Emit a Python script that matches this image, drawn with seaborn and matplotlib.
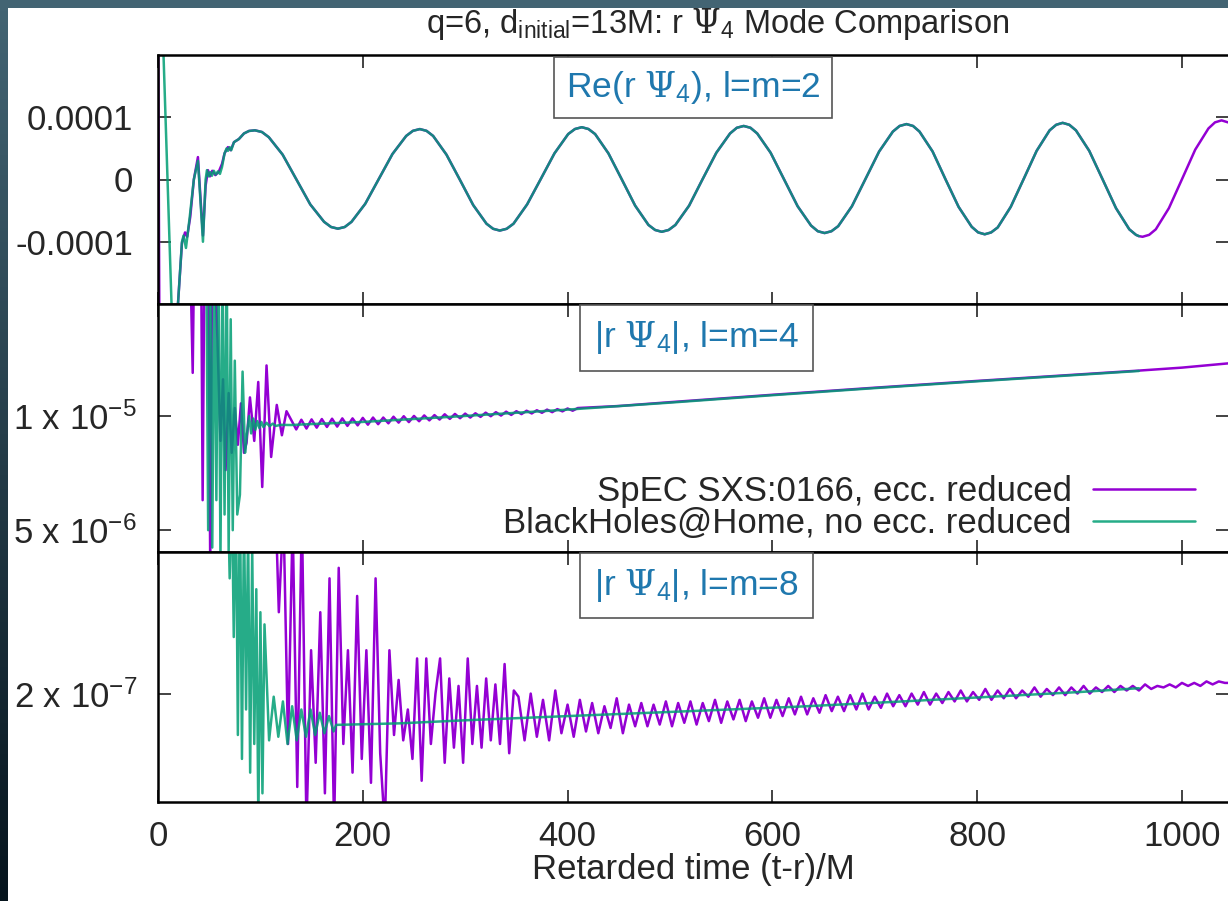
import numpy as np
import matplotlib
matplotlib.use("Agg")
import matplotlib.pyplot as plt
import seaborn as sns
from matplotlib.ticker import NullLocator
from matplotlib.patches import Rectangle

sns.set_theme(style="white")
plt.rcParams['font.family'] = ['Liberation Sans', 'DejaVu Sans']
plt.rcParams['mathtext.fontset'] = 'custom'
plt.rcParams['mathtext.rm'] = 'DejaVu Serif'
plt.rcParams['mathtext.sf'] = 'Liberation Sans'
plt.rcParams['mathtext.it'] = 'Liberation Sans:italic'

PURPLE = '#9400d3'
GREEN = '#009e73'
LABEL_BLUE = '#1f78ae'

# ---------------- Re(r Psi4), l=m=2   (units of 1e-4) ----------------
re22_spec_early_t = [0, 1.5, 12, 19.5, 23.4, 26.4, 28.5, 31.5, 35, 39, 41.5, 43.9, 46.5, 48.8,
                     50.8, 53, 56, 59.2, 62.5, 65, 68.3, 71, 74.2, 79, 84, 88.9]
re22_spec_early_v = [3.0, -3.0, -3.0, -2.0, -1.02, -0.85, -0.92, -0.6, 0.0, 0.36, -0.3, -0.90, -0.1, 0.15,
                     0.05, 0.14, 0.07, 0.12, 0.25, 0.42, 0.52, 0.47, 0.60, 0.65, 0.74, 0.78]
re22_bhah_early_t = [0, 5, 13.6, 16, 19.5, 23.4, 25, 27.3, 31, 35, 39, 41.5, 43.9, 46.5, 47.8, 49.5,
                     51, 52.7, 54.5, 56.5, 58.5, 60.5, 62.5, 65, 67, 68.3, 70, 71.5, 74.2, 79, 84, 88.9]
re22_bhah_early_v = [4.0, 2.2, -2.2, -3.0, -2.0, -1.0, -0.9, -1.1, -0.6, 0.0, 0.30, -0.35, -1.0, 0.0, 0.15, 0.05,
                     0.12, 0.06, 0.14, 0.08, 0.13, 0.09, 0.20, 0.42, 0.50, 0.46, 0.52, 0.47, 0.60, 0.65, 0.74, 0.78]
# inspiral part (both codes on top of each other)
re22_t = [94.7, 101.5, 108.2, 121.7, 135.2, 148.7, 162.2, 169.0,
          175.7, 182.4, 189.0, 202.4, 215.7, 229.0, 242.4, 249.0,
          255.7, 262.2, 268.7, 281.7, 294.7, 307.8, 320.8, 327.3,
          333.8, 340.5, 347.2, 360.5, 373.9, 387.2, 400.6, 407.2,
          413.9, 420.4, 426.9, 439.9, 453.0, 466.0, 479.0, 485.5,
          492.0, 498.7, 505.3, 518.7, 532.0, 545.3, 558.7, 565.3,
          572.0, 578.6, 585.2, 598.3, 611.5, 624.7, 637.8, 644.4,
          651.0, 657.7, 664.3, 677.7, 691.0, 704.3, 717.7, 724.3,
          731.0, 737.4, 743.7, 756.5, 769.2, 781.9, 794.7, 801.0,
          807.4, 813.7, 820.1, 832.8, 845.5, 858.1, 870.8, 877.2,
          883.5, 890.0, 896.5, 909.5, 922.6, 935.6, 948.6, 955.1, 958.0,
          961.6, 968.0, 974.5, 987.3, 1000.2, 1013.0, 1025.9, 1032.3,
          1038.7, 1045.0]
re22_v = [0.79, 0.763, 0.68, 0.40, 0.0, -0.40, -0.68, -0.763,
          -0.79, -0.763, -0.68, -0.39, 0.01, 0.41, 0.70, 0.782,
          0.81, 0.782, 0.70, 0.40, 0.0, -0.41, -0.71, -0.792,
          -0.82, -0.792, -0.71, -0.40, 0.01, 0.42, 0.73, 0.811,
          0.84, 0.811, 0.73, 0.42, 0.0, -0.42, -0.73, -0.811,
          -0.84, -0.811, -0.73, -0.42, 0.01, 0.43, 0.74, 0.831,
          0.86, 0.831, 0.74, 0.43, 0.0, -0.43, -0.74, -0.831,
          -0.86, -0.831, -0.75, -0.43, 0.01, 0.45, 0.77, 0.860,
          0.89, 0.860, 0.77, 0.45, 0.0, -0.44, -0.76, -0.850,
          -0.88, -0.850, -0.77, -0.44, 0.01, 0.46, 0.79, 0.879,
          0.91, 0.879, 0.79, 0.46, 0.0, -0.46, -0.80, -0.889, -0.91,
          -0.92, -0.889, -0.80, -0.46, 0.01, 0.48, 0.82, 0.918,
          0.95, 0.918]
bhah_end_t = 958.0

# ---------------- |r Psi4|, l=m=4   (units of 1e-5) ----------------
a44_spec_t = [0, 31, 33.9, 35.5, 42, 43.6, 45.5, 49, 51, 53, 55.5, 58, 61, 63.5, 66, 69, 72, 75,
              78, 81, 84, 86.5, 89.8, 94, 97.9, 101.8, 106, 110.5, 116, 121, 125.5]
a44_spec_v = [3.0, 3.0, 1.30, 3.0, 3.0, 0.60, 3.0, 3.0, 0.40, 3.0, 2.5, 1.6, 0.86, 1.25, 0.72, 1.15, 0.80, 1.05,
              0.84, 1.08, 0.80, 0.85, 1.12, 0.86, 1.23, 0.65, 1.36, 0.78, 1.07, 0.89, 1.03]
a44_spec_wig_t = [130, 135, 140, 145, 150, 155, 160, 165, 170, 175, 180, 185, 190, 195, 200, 205,
                  210, 215, 220, 225, 230, 235, 240, 245, 250, 255, 260, 265, 270, 275, 280, 285,
                  290, 295, 300, 305, 310, 315, 320, 325, 330, 335, 340, 345, 350, 355, 360, 365,
                  370, 375, 380, 385, 390, 395, 400, 405, 410, 450, 500, 600, 700, 800, 900, 958,
                  1000, 1045]
a44_spec_wig_v = [0.978, 0.922, 0.978, 0.927, 0.980, 0.932, 0.982, 0.936, 0.984, 0.938, 0.986, 0.942,
                  0.986, 0.945, 0.989, 0.949, 0.991, 0.952, 0.991, 0.957, 0.996, 0.961, 0.999, 0.964,
                  1.001, 0.969, 1.004, 0.974, 1.006, 0.979, 1.011, 0.983, 1.013, 0.987, 1.015, 0.991,
                  1.017, 0.995, 1.021, 0.999, 1.024, 1.003, 1.027, 1.007, 1.030, 1.012, 1.033, 1.016,
                  1.036, 1.020, 1.040, 1.024, 1.043, 1.029, 1.047, 1.033, 1.050, 1.063, 1.088, 1.138,
                  1.188, 1.238, 1.288, 1.318, 1.342, 1.377]
a44_bhah_t = [0, 47, 49, 51, 53, 55, 57, 59, 61, 63, 65, 67, 69, 71, 73, 75, 77.4, 80, 82.6, 85,
              86.5, 89, 91, 93, 95, 97, 99, 101, 103, 106, 109, 112, 115, 120, 130, 140, 200, 285,
              400, 500, 600, 700, 800, 900, 958]
a44_bhah_v = [3.0, 3.0, 0.50, 2.8, 0.45, 2.6, 0.60, 3.0, 0.42, 2.4, 0.55, 2.8, 0.44, 1.8, 0.50, 1.4, 0.55, 0.62, 1.31, 0.80,
              0.88, 1.00, 0.90, 0.985, 0.92, 0.97, 0.93, 0.965, 0.935, 0.96, 0.94, 0.955, 0.942, 0.948, 0.947, 0.950, 0.965, 0.995,
              1.040, 1.085, 1.135, 1.185, 1.235, 1.285, 1.315]

# ---------------- |r Psi4|, l=m=8   (units of 1e-7) ----------------
a88_spec_pre_t = [0, 114]
a88_spec_pre_v = [4.0, 4.0]
# junk-radiation part, sampled every 4.5 M from t = 118 M
a88_spec_a_start, a88_spec_a_step = 118, 4.5
a88_spec_a_v = [2.6, 3.6, 1.7, 3.5, 1.48, 3.6, 1.3, 2.3, 1.6, 2.6, 1.45, 2.9, 1.3, 3.0, 1.7, 2.3,
                1.55, 2.74, 1.62, 2.3, 1.5, 2.9, 1.65, 1.3, 2.3, 1.75, 2.09, 1.72, 1.9, 1.62, 2.24, 1.51,
                2.24, 1.7, 2.0, 2.24, 1.60, 2.1, 1.68, 2.05, 1.6, 2.24, 1.7, 2.05, 1.68, 2.1, 1.72, 2.06,
                1.7, 2.2, 1.65, 2.02]
# later part, sampled every 6 M from t = 352 M
a88_spec_b_start, a88_spec_b_step = 352, 6
a88_spec_b_v = [1.98, 1.72, 2.0, 1.74, 1.96, 1.72, 2.02, 1.76, 1.93,
                1.74, 1.96, 1.77, 1.94, 1.76, 1.92, 1.79, 1.97, 1.76, 1.93, 1.80, 1.94, 1.80, 1.93, 1.81, 1.95,
                1.80, 1.94, 1.82, 1.95, 1.81, 1.94, 1.83, 1.96, 1.82, 1.95, 1.84, 1.96, 1.83, 1.95, 1.85, 1.97,
                1.85, 1.96, 1.86, 1.97, 1.87, 1.98, 1.87, 1.97, 1.88, 1.99, 1.89, 1.98, 1.89, 1.99, 1.90, 2.00,
                1.90, 1.98, 1.91, 2.00, 1.92, 1.99, 1.92, 2.00, 1.93, 2.01, 1.93, 2.00, 1.94, 2.01, 1.95, 2.02,
                1.95, 2.01, 1.96, 2.03, 1.96, 2.02, 1.97, 2.03, 1.97, 2.02, 1.98, 2.04, 1.98, 2.03, 1.99, 2.04,
                1.99, 2.04, 2.00, 2.05, 2.00, 2.04, 2.01, 2.05, 2.01, 2.05, 2.02, 2.05, 2.02, 2.06, 2.03, 2.05,
                2.04, 2.06, 2.04, 2.07, 2.05, 2.07, 2.05, 2.08, 2.06, 2.08, 2.07]
a88_bhah_t = [0, 68, 70, 72, 74, 76, 78, 80, 82, 84, 86, 88, 90, 92, 94, 96, 98, 100, 102, 104,
              108.5, 113, 117.5, 122, 126.5, 131, 135.5, 140, 144.5, 149, 153.5, 158, 162.5, 167, 171.5,
              174, 236, 300, 400, 500, 627, 724, 800, 900, 958]
a88_bhah_v = [4.0, 4.0, 2.9, 4.0, 2.4, 4.0, 1.75, 4.0, 1.62, 3.6, 1.9, 3.4, 1.55, 3.2, 1.7, 2.8, 1.33, 2.6, 1.45, 2.5,
              1.72, 1.98, 1.74, 1.95, 1.70, 1.92, 1.72, 1.90, 1.74, 1.90, 1.75, 1.88, 1.76, 1.86, 1.77,
              1.808, 1.817, 1.835, 1.86, 1.885, 1.918, 1.949, 1.975, 2.01, 2.035]

legend_labels = ['SpEC SXS:0166, ecc. reduced', 'BlackHoles@Home, no ecc. reduced']
xticks = [0, 200, 400, 600, 800, 1000]

# assemble series
t_p1 = np.array(re22_spec_early_t + re22_t)
v_p1 = np.array(re22_spec_early_v + re22_v) * 1e-4
keep = np.array(re22_t) <= bhah_end_t
t_g1 = np.array(re22_bhah_early_t + list(np.array(re22_t)[keep]))
v_g1 = np.array(re22_bhah_early_v + list(np.array(re22_v)[keep])) * 1e-4

t_p2 = np.array(a44_spec_t + a44_spec_wig_t)
v_p2 = np.array(a44_spec_v + a44_spec_wig_v) * 1e-5
t_g2 = np.array(a44_bhah_t)
v_g2 = np.array(a44_bhah_v) * 1e-5

ta = a88_spec_a_start + a88_spec_a_step * np.arange(len(a88_spec_a_v))
tb = a88_spec_b_start + a88_spec_b_step * np.arange(len(a88_spec_b_v))
t_p3 = np.concatenate([a88_spec_pre_t, ta, tb, [1045]])
v_p3 = np.array(a88_spec_pre_v + a88_spec_a_v + a88_spec_b_v + [2.07]) * 1e-7
t_g3 = np.array(a88_bhah_t)
v_g3 = np.array(a88_bhah_v) * 1e-7

W, H = 1228, 901
fig = plt.figure(figsize=(W / 100, H / 100), dpi=100)
fig.patch.set_facecolor('white')

left = 158 / W
panels = [(55, 304), (304, 552), (552, 802)]
axes = []
for top, bot in panels:
    ax = fig.add_axes([left, (H - bot) / H, 1 - left, (bot - top) / H])
    axes.append(ax)
ax1, ax2, ax3 = axes

series = [(ax1, t_p1, v_p1, t_g1, v_g1),
          (ax2, t_p2, v_p2, t_g2, v_g2),
          (ax3, t_p3, v_p3, t_g3, v_g3)]
for ax, tp, vp, tg, vg in series:
    sns.lineplot(x=tp, y=vp, ax=ax, color=PURPLE, lw=1.8, sort=False, estimator=None, legend=False)
    sns.lineplot(x=tg, y=vg, ax=ax, color=GREEN, lw=1.8, alpha=0.85, sort=False, estimator=None,
                 legend=False)

ax1.set_ylim(-2.0e-4, 2.0e-4)
ax1.set_yticks([-1e-4, 0, 1e-4])
ax1.set_yticklabels(['-0.0001', '0', '0.0001'])

ax2.set_yscale('log')
ax2.set_ylim(4.38e-6, 1.975e-5)
ax2.set_yticks([5e-6, 1e-5])
ax2.set_yticklabels([r'5 x 10$^{\mathsf{-6}}$', r'1 x 10$^{\mathsf{-5}}$'])

ax3.set_yscale('log')
ax3.set_ylim(1.41e-7, 3.157e-7)
ax3.set_yticks([2e-7])
ax3.set_yticklabels([r'2 x 10$^{\mathsf{-7}}$'])

labels = [r'Re(r $\Psi_{\mathsf{4}}$), l=m=2', r'|r $\Psi_{\mathsf{4}}$|, l=m=4', r'|r $\Psi_{\mathsf{4}}$|, l=m=8']
label_pos = [(0.5, 0.871, 0.34), (0.503, 0.863, 0.4), (0.503, 0.866, 0.4)]
for ax, lab, (lx, ly, bpad) in zip(axes, labels, label_pos):
    ax.yaxis.set_minor_locator(NullLocator())
    ax.set_xlim(0, 1045)
    ax.set_xticks(xticks)
    ax.set_xlabel('')
    ax.set_ylabel('')
    ax.tick_params(axis='both', direction='in', length=9, width=1.2, color='#222222',
                   top=True, right=True, labelsize=25, pad=18, left=True, bottom=True)
    ax.tick_params(axis='x', pad=13)
    for s in ['left', 'top', 'bottom']:
        ax.spines[s].set_color('black')
        ax.spines[s].set_linewidth(1.8)
    ax.spines['right'].set_visible(False)
    ax.set_facecolor('white')
    ax.text(lx, ly, lab, transform=ax.transAxes, ha='center', va='center', fontsize=25.5,
            color=LABEL_BLUE, zorder=5,
            bbox=dict(boxstyle=f'square,pad={bpad}', fc='white', ec='#555555', lw=1.2))

ax2.tick_params(axis='y', pad=15)
ax3.tick_params(axis='y', pad=15)
ax1.tick_params(axis='x', labelbottom=False)
ax2.tick_params(axis='x', labelbottom=False)
ax3.set_xlabel('Retarded time (t-r)/M', fontsize=25, labelpad=0)

# legend in the middle panel, gnuplot style (text right-aligned, sample on the right)
handles = [plt.Line2D([], [], color=PURPLE, lw=1.8), plt.Line2D([], [], color=GREEN, lw=1.8, alpha=0.85)]
ax2.legend(handles, legend_labels, loc='lower right', bbox_to_anchor=(0.969, 0.048),
           markerfirst=False, frameon=False, fontsize=25, handlelength=2.94,
           handletextpad=0.6, labelspacing=-0.03, borderaxespad=0, borderpad=0)

fig.text(718 / W, 1 - 24 / H, r'q=6, d$_{\mathsf{initial}}$=13M: r $\Psi_{\mathsf{4}}$ Mode Comparison',
         ha='center', va='center', fontsize=23.5)

# slide frame: dark band on the top and left edges
fig.patches.append(Rectangle((0, 1 - 8 / H), 1, 8 / H, transform=fig.transFigure,
                             facecolor='#436473', edgecolor='none', zorder=10))
band = fig.add_axes([0, 0, 8 / W, 1 - 8 / H])
grad = np.linspace(0, 1, 256).reshape(-1, 1)
band.imshow(grad, aspect='auto', cmap=matplotlib.colors.LinearSegmentedColormap.from_list(
    'frame', ['#436473', '#06141d']), extent=[0, 1, 0, 1])
band.axis('off')

fig.savefig('out.png', dpi=100, facecolor='white')
